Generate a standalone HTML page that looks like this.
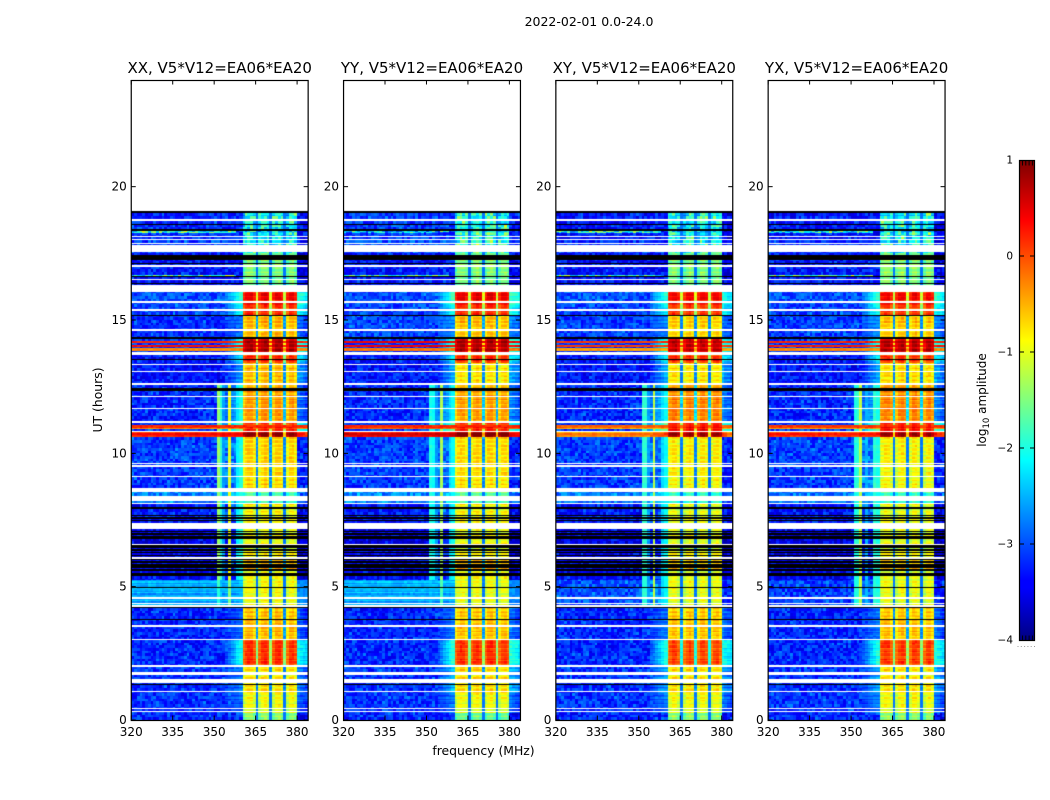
<!DOCTYPE html>
<html lang="en">
<head>
<meta charset="utf-8">
<title>2022-02-01 amplitude waterfall</title>
<style>
html,body{margin:0;padding:0;background:#fff;}
#figure{position:relative;width:1050px;height:800px;overflow:hidden;background:#fff;font-family:"DejaVu Sans","Liberation Sans",sans-serif;}
#figure canvas{position:absolute;display:block;}
#overlay{position:absolute;left:0;top:0;}
#overlay text{font-family:"DejaVu Sans","Liberation Sans",sans-serif;fill:#000;}
</style>
</head>
<body>
<div id="figure">
<svg id="overlay" width="1050" height="800" viewBox="0 0 1050 800">
  <defs>
    <linearGradient id="jet" x1="0" y1="1" x2="0" y2="0">
      <stop offset="0" stop-color="#00007f"/>
      <stop offset="0.11" stop-color="#0000ff"/>
      <stop offset="0.125" stop-color="#0000ff"/>
      <stop offset="0.375" stop-color="#00ffff"/>
      <stop offset="0.625" stop-color="#ffff00"/>
      <stop offset="0.875" stop-color="#ff0000"/>
      <stop offset="1" stop-color="#7f0000"/>
    </linearGradient>
  </defs>
  <text x="589" y="26" font-size="12.5" text-anchor="middle">2022-02-01 0.0-24.0</text>
  <text x="483.5" y="755" font-size="12.4" text-anchor="middle">frequency (MHz)</text>
  <text x="102" y="400" font-size="12.4" text-anchor="middle" transform="rotate(-90 102 400)">UT (hours)</text>
  <text x="986" y="400" font-size="12" text-anchor="middle" transform="rotate(-90 986 400)">log<tspan dy="3" font-size="8.5">10</tspan><tspan dy="-3"> amplitude</tspan></text>
  <rect x="1019.5" y="160.5" width="15" height="480" fill="url(#jet)" stroke="#000" stroke-width="1.2"/>
  <g id="layer"></g>
</svg>
</div>
<script>
// ---- chart data ----
const panelTitles = ["XX, V5*V12=EA06*EA20","YY, V5*V12=EA06*EA20","XY, V5*V12=EA06*EA20","YX, V5*V12=EA06*EA20"];
const freqTicks = [320,335,350,365,380];
const hourTicks = [0,5,10,15,20];
const colorbarTicks = [1,0,-1,-2,-3,-4];

// flagged (blank) time rows, hours
const whiteRows = [18.79,18.71,18.1,18.0,17.9,17.04,16.54,15.7,15.36,14.63,13.75,13.34,13.08,12.12,11.69,11.19,10.85,9.63,9.53,9.12,8.13,6.6,6.1,4.58,4.39,4.26,3.65,3.54,3.4,3.0,2.04,1.75,1.09,0.44,0.34];
const whiteSpansLow = [17.56,16.09,12.56,8.56,8.21,7.18,1.45];
const whiteSpansHigh = [17.78,16.28,12.64,8.66,8.36,7.4,1.54];
// zero-amplitude (black) time rows, hours
const blackRows = [18.58,18.37,17.1,16.62,16.35,15.16,14.31,13.53,12.42,12.36,7.96,7.9,7.69,7.6,7.47,7.06,6.97,6.86,6.81,6.37,6.26,6.15,6.0,5.92,5.85,5.77,5.7,5.62,5.55,5.47,5.4,4.96,4.8,4.2,3.75,1.34];
const blackSpansLow = [19.0,17.25,6.45];
const blackSpansHigh = [19.07,17.44,6.56];

// time segments (lower bound, hours) and log10 amplitude in each
const segLow = [18.0,17.5,16.1,15.55,15.2,14.35,13.8,13.4,12.6,11.2,10.85,10.6,8.6,8.15,7.3,6.0,5.6,5.25,4.3,3.05,2.05,1.0,0.25,0];
const bandXX = [-2.1,-2.1,-1.5,0.35,0.05,-0.6,0.65,0.1,-0.6,-0.45,0.1,0.85,-0.75,-1.7,-0.9,-1.0,-0.5,-0.95,-1.0,-0.6,0.05,-0.85,-1.0,-1.45];
const bandYY = [-2.0,-2.0,-1.5,0.35,0.05,-0.65,0.65,0.1,-0.8,-0.5,0.1,0.95,-0.8,-1.6,-0.9,-1.0,-0.5,-0.95,-1.05,-0.65,0.05,-0.8,-1.0,-1.6];
const bandXY = [-2.1,-2.1,-1.5,0.3,0.0,-0.75,0.55,0.1,-0.8,-0.35,0.25,0.75,-0.9,-1.8,-1.0,-1.05,-0.6,-1.05,-1.05,-0.65,-0.05,-0.85,-1.0,-1.45];
const bandYX = [-2.1,-2.1,-1.45,0.3,0.0,-0.7,0.6,0.05,-0.75,-0.35,0.2,0.75,-0.95,-1.8,-1.0,-1.05,-0.6,-1.05,-1.05,-0.65,0.0,-0.85,-1.0,-1.45];
const bgXX = [-3.2,-3.1,-3.3,-3.0,-3.05,-3.15,-3.1,-3.3,-3.3,-3.2,-3.1,0.25,-3.1,-2.75,-3.3,-3.5,-3.4,-3.4,-2.55,-3.2,-3.2,-3.15,-3.15,-3.2];
const bgYY = [-3.1,-3.0,-3.3,-3.0,-3.05,-3.05,-3.1,-3.3,-3.3,-3.2,-3.1,0.45,-3.1,-2.7,-3.3,-3.5,-3.4,-3.4,-2.55,-3.2,-3.2,-3.15,-3.15,-3.2];
const bgXY = [-3.3,-3.2,-3.3,-3.0,-3.05,-3.1,-3.1,-3.3,-3.3,-3.2,-3.1,-0.3,-3.1,-2.8,-3.3,-3.5,-3.4,-3.4,-3.0,-3.2,-3.2,-3.15,-3.15,-3.2];
const bgYX = [-3.3,-3.2,-3.3,-3.0,-3.05,-3.1,-3.1,-3.3,-3.3,-3.2,-3.1,0.15,-3.1,-2.8,-3.3,-3.5,-3.4,-3.4,-3.1,-3.2,-3.2,-3.15,-3.15,-3.2];
const wingXX = [-4,-4,-4,-1.9,-2.2,-2.9,-1.9,-2.3,-2.6,-2.8,-2.0,0.3,-4,-4,-4,-4,-4,-4,-4,-2.9,-2.1,-2.8,-2.9,-4];
const wingYY = [-4,-4,-4,-1.8,-2.1,-2.7,-1.8,-2.2,-2.5,-2.7,-2.0,0.5,-4,-4,-4,-4,-4,-4,-4,-2.8,-1.9,-2.5,-2.8,-4];
const wingXY = [-4,-4,-4,-2.0,-2.2,-2.8,-1.9,-2.2,-2.5,-2.7,-1.9,0.0,-4,-4,-4,-4,-4,-4,-4,-2.8,-2.0,-2.6,-2.8,-4];
const wingYX = [-4,-4,-4,-1.9,-2.1,-2.7,-1.9,-2.2,-2.5,-2.7,-1.9,0.2,-4,-4,-4,-4,-4,-4,-4,-2.8,-2.0,-2.6,-2.8,-4];

// full-width interference rows
const streakHours = [18.3,18.25,16.68,15.2,14.19,14.04,13.9,11.0,10.93];
const streakXX = [-1.9,-2.1,-1.9,-1.0,0.2,0.3,-0.3,0.2,-0.3];
const streakYY = [-2.4,-2.5,-1.9,-0.8,0.45,0.4,-0.2,0.2,-0.1];
const streakXY = [-2.0,-2.2,-1.9,-1.0,0.1,0.1,-0.4,-0.1,-0.5];
const streakYX = [-2.0,-2.3,-1.7,-0.9,0.2,0.2,-0.3,0.1,-0.4];

// narrow-band interference columns, MHz
const rfiChannels = [351,352,353,355,358,359];
const rfiXX = [-1.4,-1.9,-2.6,-1.0,-2.2,-2.0];
const rfiYY = [-2.0,-2.1,-2.6,-1.3,-2.3,-2.1];
const rfiXY = [-1.9,-1.9,-2.6,-1.2,-2.3,-2.1];
const rfiYX = [-2.0,-1.9,-1.2,-2.5,-1.9,-2.0];

// band shape over 360..379 MHz relative to band level (notches at 365, 370, 375)
const bandShape = [-0.2,0.0,0.12,0.1,-0.1,-1.5,-0.18,0.05,0.15,0.0,-1.4,-0.15,0.1,0.12,-0.05,-1.5,-0.2,0.05,0.1,-0.1];
// measured texture tables
const grain = [-0.12,0.22,-0.31,0.05,0.34,-0.2,0.11,-0.38,0.27,-0.05,0.42,-0.26,0.08,-0.15,0.31,-0.33,0.02,0.18,-0.22,0.55,-0.09,-0.36,0.14,0.25,-0.18,0.06,-0.29,0.37,-0.02,-0.24,0.2,-0.4,0.1,0.29,-0.14,0.01,-0.32,0.46,-0.07,0.16,-0.27,0.33,-0.11,0.04,-0.35,0.23,0.12,-0.19,0.39,-0.04,-0.28,0.09,0.21];
const rowJitter = [0.1,-0.18,0.22,-0.05,-0.24,0.14,0.03,-0.2,0.26,-0.1,0.06,0.19,-0.26,0.0,0.16,-0.13,0.24,-0.07,-0.21,0.12,0.05,-0.16,0.2,-0.02,-0.27,0.17,0.08,-0.11,0.13];

const bandLevels = [bandXX,bandYY,bandXY,bandYX];
const bgLevels = [bgXX,bgYY,bgXY,bgYX];
const wingLevels = [wingXX,wingYY,wingXY,wingYX];
const streakLevels = [streakXX,streakYY,streakXY,streakYX];
const rfiLevels = [rfiXX,rfiYY,rfiXY,rfiYX];

// ---- axes ----
const freqMin = 320, freqMax = 384, hourMin = 0, hourMax = 24;
const rowStep = 0.05, dataTop = 19.07, wingEdge = 354, rfiLow = 4.2, rfiHigh = 12.55, bandEdge = 360.4;
const panelLeft0 = 131.25, panelPitch = 212.3, panelWidth = 176.9, plotTop = 80, plotBottom = 720;
function panelLeft(p){ return panelLeft0 + p*panelPitch; }
function xScale(p,f){ return panelLeft(p) + (f-freqMin)/(freqMax-freqMin)*panelWidth; }
function yScale(h){ return plotBottom - (h-hourMin)/(hourMax-hourMin)*(plotBottom-plotTop); }
function cbScale(v){ return 640 - (v+4)/5*480; }
function cellEdge(f){ return f===360 ? bandEdge : f; }

function clip01(x){ return Math.max(0,Math.min(1,x)); }
function jet(v){
  const t = clip01((v+4)/5);
  const r = clip01(Math.min(4*t-1.5,-4*t+4.5));
  const g = clip01(Math.min(4*t-0.5,-4*t+3.5));
  const b = clip01(Math.min(4*t+0.5,-4*t+2.5));
  return "rgb("+Math.round(r*255)+","+Math.round(g*255)+","+Math.round(b*255)+")";
}
function inRow(list,lo,hi){ return list.findIndex(function(h){ return h>=lo && h<hi; }); }
function inSpan(lows,highs,lo,hi){
  for(let i=0;i<lows.length;i++){ if(lo<highs[i] && hi>lows[i]) return true; }
  return false;
}
function segOf(h){
  for(let i=0;i<segLow.length;i++){ if(h>=segLow[i]) return i; }
  return segLow.length-1;
}
function grainAt(q,c,p){
  let k = q*73 + c*179 + p*283 + 11;
  k = (k ^ (k>>>3)) * 31;
  k = (k ^ (k>>>5)) * 17;
  return grain[k % grain.length];
}
function cellValue(p,r,f,h,hi){
  const s = segOf(h);
  const c = f-freqMin, q = Math.floor(r/2);
  const n = grainAt(q,c,p);
  const j = rowJitter[r%rowJitter.length];
  const bg = bgLevels[p][s], band = bandLevels[p][s], wing = wingLevels[p][s];
  const bgScale = bg>-2.6 ? 0.3 : 0.8;
  let v;
  if(f>=360 && f<380){
    const shape = bandShape[f-360];
    const notch = shape<-1 && band<0 ? -0.5 : 0;
    v = band + shape + notch + j*0.7 + n*(band<-1.8 ? 1.4 : 0.25);
    if(shape<-1){ v = Math.max(v,-2.8); }
  } else if(f<360){
    v = bg + n*bgScale + j*(bg>-2.6 ? 0.8 : 0.08);
    if(f>=wingEdge && wing>bg){
      const frac = (f-wingEdge+1)/(360-wingEdge);
      v = Math.max(v, bg+(wing-bg)*frac + j*0.7 + n*0.25);
    }
    if(h>=rfiLow && h<=rfiHigh){
      if(f>=354 && bg<-2.6){ v += 0.3; }
      const ri = rfiChannels.indexOf(f);
      if(ri>=0){
        const gain = (bg>-2.6) ? 0.5 : 0;
        v = Math.max(v, rfiLevels[p][ri] - gain + n*0.2);
      }
    }
  } else {
    v = bg - 0.15 + n*bgScale + j*0.08;
    if(wing>bg){ v = Math.max(v, wing - (f-380)*0.1 + j*0.7 + n*0.3); }
  }
  const si = inRow(streakHours,h,hi);
  if(si>=0){
    const lvl = streakLevels[p][si];
    if(lvl<-0.5){
      if(f<358){ v = Math.max(v, lvl + n*2); }
    } else {
      v = Math.max(v, lvl + n*0.3);
    }
  }
  return v;
}

// ---- heatmaps ----
const figure = document.getElementById("figure");
panelTitles.forEach(function(title,p){
  const x0 = Math.round(panelLeft(p));
  const x1 = Math.round(panelLeft(p)+panelWidth);
  const cv = document.createElement("canvas");
  
  
  cv.width = x1-x0;
  cv.height = plotBottom-plotTop;
  cv.style.left = x0+"px";
  cv.style.top = plotTop+"px";
  figure.insertBefore(cv, figure.firstChild);
  const ctx = cv.getContext("2d");
  const rows = Math.ceil(dataTop/rowStep);
  for(let r=0;r<rows;r++){
    const h = r*rowStep, hi = h+rowStep;
    const yT = Math.round(yScale(Math.min(hi,dataTop)))-plotTop;
    const yB = Math.round(yScale(h))-plotTop;
    if(yB<=yT) continue;
    if(inRow(whiteRows,h,hi)>=0 || inSpan(whiteSpansLow,whiteSpansHigh,h,hi)) continue;
    if(inRow(blackRows,h,hi)>=0 || inSpan(blackSpansLow,blackSpansHigh,h,hi)){
      ctx.fillStyle = "#000";
      ctx.fillRect(0,yT,cv.width,yB-yT);
      continue;
    }
    for(let f=freqMin;f<freqMax;f++){
      const a = Math.round(xScale(p,cellEdge(f)))-x0;
      const b = Math.round(xScale(p,cellEdge(f+1)))-x0;
      ctx.fillStyle = jet(cellValue(p,r,f,h,hi));
      ctx.fillRect(a,yT,b-a,yB-yT);
    }
  }
});

// ---- axes drawing ----
const NS = "http://www.w3.org/2000/svg";
const layer = document.getElementById("layer");
function svgEl(tag,attrs,parent){
  const e = document.createElementNS(NS,tag);
  Object.keys(attrs).forEach(function(k){ e.setAttribute(k,attrs[k]); });
  parent.appendChild(e);
  return e;
}
panelTitles.forEach(function(title,p){
  const L = panelLeft(p), R = L+panelWidth;
  const g = svgEl("g",{},layer);
  
  
  const frame = svgEl("rect",{x:L,y:plotTop+0.5,width:panelWidth,height:plotBottom-plotTop,fill:"none",stroke:"#000","stroke-width":1.2},g);
  
  
  const t = svgEl("text",{x:L+panelWidth/2,y:73,"font-size":15,"text-anchor":"middle"},g);
  
  
  t.textContent = title;
  freqTicks.forEach(function(f){
    const x = xScale(p,f);
    const top = svgEl("line",{x1:x,x2:x,y1:plotTop,y2:plotTop+4.5,stroke:"#000","stroke-width":1},g);
    
    
    const bot = svgEl("line",{x1:x,x2:x,y1:plotBottom,y2:plotBottom-4.5,stroke:"#000","stroke-width":1},g);
    
    
    const lab = svgEl("text",{x:x,y:736,"font-size":12,"text-anchor":"middle"},g);
    
    
    lab.textContent = String(f);
  });
  hourTicks.forEach(function(h){
    const y = yScale(h);
    const a = svgEl("line",{x1:L,x2:L+4.5,y1:y,y2:y,stroke:"#000","stroke-width":1},g);
    
    
    const b = svgEl("line",{x1:R,x2:R-4.5,y1:y,y2:y,stroke:"#000","stroke-width":1},g);
    
    
    const lab = svgEl("text",{x:L-4.5,y:y+4,"font-size":12,"text-anchor":"end"},g);
    
    
    lab.textContent = String(h);
  });
});
colorbarTicks.forEach(function(v){
  const y = cbScale(v);
  if(v!==1 && v!==-4){
    const a = svgEl("line",{x1:1019.5,x2:1024,y1:y,y2:y,stroke:"#000","stroke-width":1},layer);
    
    
    const b = svgEl("line",{x1:1034.5,x2:1030,y1:y,y2:y,stroke:"#000","stroke-width":1},layer);
    
    
  }
  const lab = svgEl("text",{x:1013,y:y+3.5,"font-size":10.5,"text-anchor":"end"},layer);
  
  
  lab.textContent = String(v).replace("-","\u2212");
});
[1022.5,1025.8,1029.1,1032.4].forEach(function(x){
  const a = svgEl("line",{x1:x,x2:x,y1:160.5,y2:165.5,stroke:"#000","stroke-width":0.9},layer);
  
  
  const b = svgEl("line",{x1:x,x2:x,y1:640.5,y2:635.5,stroke:"#000","stroke-width":0.9},layer);
  
  
});
[1017.5,1020.8,1024.1,1027.4,1030.7,1034].forEach(function(x){
  const d = svgEl("rect",{x:x,y:646,width:1,height:1,fill:"#999"},layer);
  
  
});
</script>
</body>
</html>
